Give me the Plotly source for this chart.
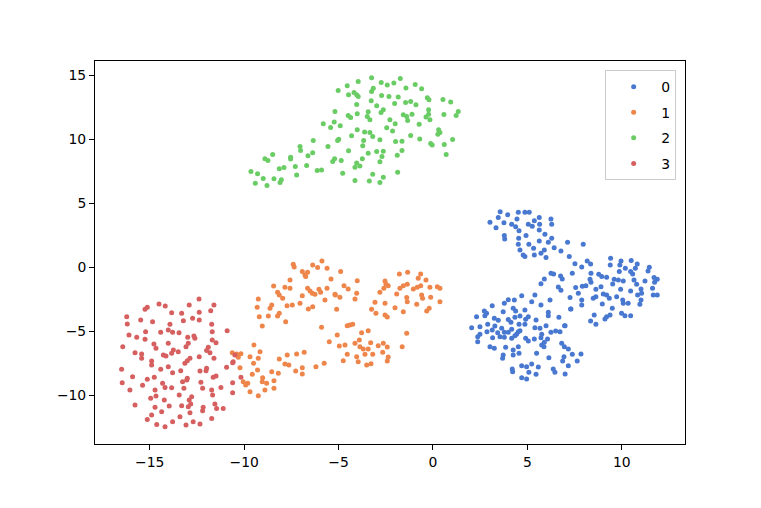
import plotly.graph_objects as go

# t-SNE embedding, one list of (x, y) pairs per class
class_labels = ['0', '1', '2', '3']
colors = ['#4878d0', '#ee854a', '#6acc64', '#d65f5f']

pts_0 = [
    (3.56, 4.34), (3.46, 3.88), (3.96, 4.09), (4.52, 4.3), (4.87, 4.3), (5.1, 4.3), (3.02, 3.52),
    (3.34, 3.09), (3.76, 3.48), (4.17, 3.36), (4.38, 3.17), (4.45, 3.77), (5.05, 3.36), (5.26, 3.2),
    (5.37, 3.62), (5.63, 3.88), (5.65, 3.36), (5.63, 2.91), (6.25, 3.77), (6.29, 3.36), (4.56, 2.84),
    (3.78, 2.47), (3.8, 2.21), (4.93, 2.47), (5.93, 2.58), (4.54, 2.27), (6.29, 2.27), (6.11, 1.95),
    (5.63, 2.05), (4.52, 1.8), (5.08, 1.8), (7.13, 1.95), (5.33, 1.48), (4.61, 1.35), (5.9, 1.35),
    (5.72, 1.09), (6.42, 1.53), (6.78, 1.27), (4.78, 0.96), (4.87, 0.83), (5.37, 0.96), (5.99, 0.75),
    (7.22, 0.83), (7.96, 1.8), (7.52, 0.28), (7.88, 0.02), (7.38, -0.47), (6.25, -0.47), (6.39, -0.52),
    (6.76, -0.68), (6.85, -0.91), (5.9, -0.91), (5.72, -1.28), (6.64, -1.54), (6.78, -1.8), (7.56, -1.59),
    (7.91, -1.48),
    (8.17, 0.49), (8.35, 0.26), (9.41, 0.7), (9.39, 0.18), (9.96, 0.49), (9.9, 0.18), (10.5, 0.52),
    (10.82, 0.26), (10.72, -0.08), (11.46, 0.0), (11.39, -0.29), (10.19, -0.08), (8.37, -0.47),
    (9.87, -0.34), (10.47, -0.34), (10.58, -0.52), (8.78, -0.55), (8.94, -0.73), (9.2, -0.78),
    (8.32, -0.94), (8.37, -1.17), (9.6, -0.94), (9.82, -0.99), (10.08, -1.07), (10.65, -0.99),
    (10.79, -1.33), (11.23, -1.07), (11.71, -0.81), (11.88, -0.94), (11.74, -1.17), (9.52, -1.3),
    (8.1, -1.44), (8.63, -1.72), (8.9, -1.52), (7.7, -2.03), (9.94, -1.72), (10.47, -1.85), (11.02, -1.7),
    (11.05, -2.03), (11.63, -1.64), (11.67, -2.16), (11.88, -2.16), (9.02, -2.09), (9.2, -2.16),
    (9.34, -2.42), (8.49, -2.42), (8.63, -2.3), (9.73, -2.3), (10.84, -2.16), (7.26, -2.37), (7.88, -2.55),
    (7.88, -2.95), (10.05, -2.55), (10.34, -2.81), (10.08, -2.81), (11.02, -2.55), (10.96, -2.89),
    (8.97, -2.87), (9.5, -3.2), (7.29, -3.26), (8.54, -3.73), (8.35, -4.2), (8.63, -4.45), (9.2, -3.86),
    (9.38, -3.73), (9.11, -4.04), (9.99, -3.59), (10.17, -3.78), (10.47, -3.78), (6.97, -4.56),
    (5.4, -2.16), (6.2, -2.55), (5.23, -2.69), (4.7, -2.22), (3.99, -2.53), (3.78, -2.81), (4.31, -2.55),
    (3.14, -3.0), (5.72, -2.95), (4.25, -3.2), (4.38, -3.41), (4.87, -3.34), (3.72, -3.47), (2.72, -3.41),
    (2.75, -3.78), (2.84, -3.59), (6.11, -3.52), (6.11, -3.78), (7.31, -3.26), (2.31, -3.86), (3.25, -3.98),
    (3.46, -4.14), (3.99, -4.09), (4.13, -4.3), (4.34, -3.91), (4.61, -3.8), (5.05, -3.86), (4.91, -4.06),
    (5.46, -4.12), (6.67, -3.91), (2.9, -4.45), (2.49, -4.64), (2.05, -4.72), (3.28, -4.59), (3.14, -4.9),
    (3.64, -4.77), (3.78, -5.08), (4.56, -4.45), (4.87, -4.45), (4.17, -4.84), (3.99, -5.08), (4.61, -4.95),
    (5.4, -4.72), (5.67, -4.77), (5.99, -4.56), (6.5, -4.98), (6.73, -5.03), (7.0, -4.56), (6.25, -5.08),
    (5.76, -5.23), (5.72, -5.5), (2.49, -5.23), (2.37, -5.42), (2.37, -5.81), (2.86, -5.03), (3.43, -5.11),
    (3.55, -5.42), (3.16, -5.5), (3.78, -5.47), (4.43, -5.23), (4.52, -5.03), (4.17, -5.55), (4.34, -5.34),
    (4.91, -5.55), (5.05, -5.76), (5.37, -5.6), (6.07, -5.6), (5.9, -5.86), (5.76, -6.07), (5.88, -6.2),
    (6.82, -5.94), (6.96, -6.2), (7.17, -6.38), (3.02, -6.2), (3.25, -6.33), (3.85, -6.25), (4.25, -6.46),
    (4.52, -6.2), (4.56, -6.72), (4.25, -6.85), (5.49, -6.72), (3.72, -6.85), (3.69, -7.11), (7.38, -6.8),
    (7.84, -6.77), (6.14, -7.06), (6.94, -6.98), (6.87, -7.32), (7.64, -7.32), (7.17, -7.69), (5.23, -7.55),
    (4.96, -7.77), (4.7, -7.69), (5.58, -7.79), (4.2, -7.95), (4.22, -8.16), (5.08, -8.2), (5.46, -8.36),
    (6.37, -7.95), (6.46, -8.2), (7.0, -8.34), (4.7, -8.62), (4.96, -8.73),
]

pts_1 = [
    (-7.4, 0.23), (-7.35, 0.02), (-6.37, 0.18), (-6.11, -0.03), (-5.88, 0.49), (-5.61, -0.08),
    (-6.92, -0.34), (-6.78, -0.6), (-6.74, -0.73), (-6.64, -0.39), (-5.4, -0.91), (-7.57, -0.99),
    (-7.84, -1.56), (-7.57, -1.64), (-8.44, -1.46), (-6.64, -1.64), (-6.51, -1.85), (-6.39, -2.03),
    (-6.04, -1.72), (-5.95, -1.95), (-5.61, -1.64), (-8.23, -1.95), (-8.14, -2.16), (-7.96, -2.42),
    (-6.92, -2.22), (-6.25, -2.11), (-5.72, -2.55), (-5.19, -2.11), (-9.25, -2.48), (-7.04, -2.81),
    (-7.73, -3.0), (-7.45, -2.95), (-6.37, -3.08), (-6.6, -3.26), (-8.54, -2.95), (-8.63, -3.2),
    (-9.31, -3.13), (-8.14, -3.59), (-8.23, -3.8), (-8.72, -3.8), (-9.2, -3.86), (-7.8, -4.25),
    (-9.04, -4.59), (-5.9, -4.69), (-5.49, -5.81), (-9.48, -6.07), (-10.63, -6.67), (-10.4, -6.77),
    (-10.17, -6.75), (-10.31, -7.03), (-9.16, -6.59), (-9.25, -7.11), (-9.69, -6.98), (-7.72, -6.85),
    (-8.14, -7.16), (-7.22, -6.77), (-6.82, -6.64), (-7.84, -7.55), (-7.63, -7.63), (-6.92, -7.84),
    (-6.92, -8.34), (-7.27, -8.1), (-6.2, -7.77), (-5.76, -7.5), (-9.5, -7.5), (-10.22, -7.84),
    (-9.29, -8.02), (-8.54, -8.16), (-8.19, -8.28), (-9.57, -8.36), (-9.02, -8.62), (-9.04, -8.94),
    (-8.81, -9.06), (-8.42, -8.86), (-10.05, -8.94), (-9.81, -9.06), (-9.92, -9.2), (-8.42, -9.45),
    (-9.69, -9.72), (-8.9, -9.59), (-9.25, -10.03),
    (-4.89, -0.34), (-4.01, -1.05), (-4.71, -1.44), (-4.49, -1.7), (-4.04, -2.03), (-4.13, -2.48),
    (-5.17, -2.16), (-4.93, -2.34), (-5.1, -3.28), (-1.78, -0.52), (-1.34, -0.39), (-0.65, -0.52),
    (-0.78, -0.86), (-2.54, -1.07), (-2.49, -1.33), (-2.37, -1.44), (-2.6, -1.64), (-2.81, -1.95),
    (-0.37, -0.99), (-1.75, -1.64), (-1.57, -1.44), (-1.36, -1.33), (-1.92, -2.09), (-1.04, -1.7),
    (-0.83, -1.56), (-0.65, -1.44), (-0.16, -1.56), (0.23, -1.52), (0.37, -1.64), (-0.6, -2.16),
    (-0.55, -2.42), (-1.39, -2.37), (-1.36, -2.69), (-0.12, -2.34), (0.37, -2.69), (-0.86, -2.89),
    (-3.07, -2.73), (-2.54, -2.81), (-2.01, -3.16), (-3.25, -3.28), (-3.02, -3.59), (-2.54, -3.73),
    (-2.42, -3.88), (-1.57, -3.47), (-0.33, -3.41), (-0.2, -3.2), (-4.54, -4.56), (-4.4, -4.51),
    (-4.25, -4.45), (-3.78, -5.11), (-3.43, -4.95), (-5.07, -5.29), (-1.39, -5.16), (-4.13, -5.94),
    (-3.9, -5.68), (-3.87, -6.2), (-3.3, -5.89), (-4.96, -6.15), (-4.66, -6.07), (-2.9, -6.13),
    (-2.63, -5.94), (-2.42, -6.23), (-1.63, -6.2), (-3.69, -6.38), (-3.43, -6.38), (-4.54, -6.8),
    (-4.04, -6.98), (-3.96, -7.38), (-3.6, -6.8), (-3.19, -6.8), (-2.66, -6.64), (-2.37, -7.01),
    (-2.42, -7.32), (-4.75, -7.3), (-3.51, -7.63), (-3.28, -7.53),
]

pts_2 = [
    (-5.02, 13.8), (-4.54, 14.16), (-3.96, 14.5), (-4.47, 13.46), (-4.18, 13.64), (-4.04, 13.46),
    (-3.96, 13.33), (-4.04, 12.7), (-5.19, 12.16), (-4.01, 11.98), (-4.49, 11.84), (-4.36, 11.69),
    (-5.81, 11.2), (-5.23, 11.33), (-5.42, 10.9), (-4.91, 11.04), (-4.01, 10.73), (-4.31, 10.26),
    (-4.99, 10.0), (-5.05, 9.89), (-6.34, 9.89), (-5.56, 9.42), (-7.04, 9.42), (-7.01, 9.11),
    (-6.37, 8.93), (-6.62, 8.7), (-4.47, 9.09), (-7.54, 8.59), (-7.54, 8.44), (-8.49, 8.8), (-8.9, 8.46),
    (-8.74, 8.33), (-5.21, 8.46), (-5.31, 8.25), (-4.86, 8.33), (-4.04, 8.13), (-4.13, 7.81),
    (-9.64, 7.47), (-9.29, 7.29), (-8.14, 7.68), (-7.89, 7.78), (-7.29, 7.86), (-6.69, 7.94),
    (-6.13, 7.55), (-5.9, 7.6), (-7.22, 7.21), (-4.78, 7.34), (-8.99, 6.92), (-8.42, 6.9), (-8.03, 6.82),
    (-8.1, 6.61), (-9.41, 6.56), (-8.79, 6.38), (-4.13, 6.77),
    (-3.25, 14.79), (-2.74, 14.42), (-2.42, 14.22), (-2.07, 14.38), (-1.73, 14.73), (-3.16, 13.98),
    (-3.25, 13.72), (-1.43, 14.0), (-0.94, 14.27), (-0.6, 13.93), (-2.72, 13.41), (-2.33, 13.33),
    (-1.84, 13.28), (-3.27, 12.99), (-2.98, 12.6), (-2.03, 12.78), (-1.45, 12.86), (-1.18, 12.94),
    (-0.9, 12.68), (-0.3, 13.23), (-0.21, 13.07), (0.53, 13.09), (0.94, 12.89), (1.34, 12.16),
    (1.23, 11.84), (0.58, 11.92), (-0.23, 12.29), (-2.63, 12.29), (-2.75, 12.08), (-3.43, 12.13),
    (-3.48, 11.77), (-3.34, 11.51), (-1.57, 11.9), (-1.39, 11.77), (-1.34, 11.45), (-1.11, 11.95),
    (-0.37, 11.72), (-0.16, 11.51), (-0.23, 11.95), (-2.28, 11.51), (-2.0, 11.2), (-0.73, 11.17),
    (-2.45, 10.88), (-2.14, 10.63), (-3.62, 10.55), (-3.34, 10.52), (-3.19, 10.2), (-3.67, 9.89),
    (-3.72, 9.48), (-2.81, 9.95), (-1.98, 9.81), (-1.64, 9.84), (-1.18, 10.28), (-0.7, 10.02),
    (0.3, 10.73), (0.37, 10.52), (0.26, 10.39), (-0.12, 9.66), (-0.04, 9.55), (0.6, 9.58), (1.04, 9.97),
    (0.7, 8.8), (-1.64, 9.11), (-1.89, 8.75), (-2.98, 9.03), (-2.63, 9.06), (-2.7, 8.64), (-2.81, 8.23),
    (-3.43, 8.9), (-3.74, 8.46), (-3.87, 7.91), (-1.87, 7.42), (-3.19, 7.26), (-2.63, 7.03),
    (-3.37, 6.74), (-2.81, 6.61),
]

pts_3 = [
    (-12.39, -2.48), (-14.51, -2.87), (-14.18, -3.02), (-12.91, -2.95), (-15.13, -3.13), (-15.25, -3.28),
    (-11.6, -2.95), (-11.77, -3.39), (-13.84, -3.55), (-13.31, -3.59), (-12.38, -3.52), (-16.22, -3.86),
    (-16.19, -4.43), (-15.48, -4.12), (-14.85, -4.25), (-13.22, -4.17), (-12.73, -3.98), (-12.38, -4.12),
    (-13.93, -4.45), (-11.72, -4.45), (-14.02, -4.9), (-13.79, -5.08), (-13.45, -5.11), (-15.22, -5.03),
    (-14.42, -5.08), (-11.69, -5.03), (-10.9, -4.95), (-16.1, -5.29), (-15.69, -5.47), (-15.25, -5.63),
    (-12.99, -5.47), (-12.66, -5.37), (-12.61, -5.55), (-11.69, -5.68), (-11.49, -5.89), (-14.78, -5.99),
    (-14.67, -6.33), (-14.02, -5.94), (-12.96, -5.94), (-13.08, -6.2), (-16.43, -6.2), (-11.9, -6.25),
    (-11.99, -6.51), (-11.81, -6.67), (-13.75, -6.46), (-13.49, -6.59), (-13.84, -6.72), (-15.78, -6.67),
    (-15.43, -6.77), (-15.43, -7.11), (-14.14, -6.93), (-14.28, -6.85), (-12.38, -6.98), (-11.6, -7.11),
    (-12.87, -7.11), (-13.01, -7.3), (-13.14, -7.5), (-14.9, -7.32), (-14.9, -7.63), (-14.02, -7.77),
    (-11.99, -7.89), (-12.02, -8.08), (-16.49, -7.97), (-14.42, -7.97), (-13.36, -8.08), (-13.79, -8.23),
    (-12.34, -8.1), (-15.91, -8.55), (-15.13, -8.75), (-14.76, -8.59), (-13.04, -8.8), (-13.26, -8.94),
    (-13.01, -8.67), (-12.29, -8.98), (-11.64, -8.59), (-11.49, -8.49), (-16.46, -9.02), (-15.38, -9.22),
    (-14.32, -9.06), (-14.19, -9.38), (-13.84, -9.41), (-12.2, -9.45), (-11.23, -9.38), (-16.05, -9.59),
    (-14.72, -9.59), (-13.19, -9.45), (-11.72, -9.59), (-11.67, -9.98), (-14.95, -10.23), (-14.67, -10.05),
    (-14.23, -10.37), (-13.44, -9.98), (-12.78, -10.11), (-12.91, -10.37), (-15.78, -10.76),
    (-13.97, -10.84), (-13.31, -10.81), (-12.83, -10.68), (-12.96, -10.89), (-12.17, -10.94),
    (-12.2, -11.2), (-11.55, -10.68), (-11.46, -11.02), (-11.11, -11.02), (-14.72, -10.94),
    (-14.37, -11.28), (-14.9, -11.54), (-15.13, -11.88), (-13.4, -11.67), (-12.87, -11.36),
    (-13.79, -12.06), (-14.19, -12.45), (-14.63, -12.27), (-13.08, -12.32), (-12.7, -12.06),
    (-12.34, -12.24), (-11.72, -11.8), (-10.93, -7.81), (-10.61, -7.45), (-10.61, -9.02), (-10.61, -9.8),
    (-10.49, -6.85), (-10.58, -7.38), (-10.17, -8.59),
]

groups = [pts_0, pts_1, pts_2, pts_3]

fig = go.Figure()
for label, color, pts in zip(class_labels, colors, groups):
    xs = [p[0] for p in pts]
    ys = [p[1] for p in pts]
    fig.add_trace(go.Scatter(
        x=xs, y=ys, mode='markers', name=label, legendgroup=label,
        marker=dict(color=color, size=5, line=dict(width=0)),
    ))

axis_style = dict(
    showgrid=False, zeroline=False, showline=True, mirror=True,
    linecolor='black', linewidth=1, ticks='outside', ticklen=5, tickwidth=1,
    tickcolor='black', tickfont=dict(size=13.9, color='black'), dtick=5,
)
fig.update_xaxes(range=[-17.9, 13.35], tick0=0, **axis_style)
fig.update_yaxes(range=[-13.8, 16.1], tick0=0, **axis_style)

# the page body adds an 8px offset, so the margins are shifted to compensate
fig.update_layout(
    width=761, height=508,
    margin=dict(l=87, r=84, t=53, b=72),
    plot_bgcolor='white', paper_bgcolor='white',
    font=dict(family='DejaVu Sans', color='black'),
    legend=dict(
        x=0.985, y=0.976, xanchor='right', yanchor='top',
        bgcolor='white', bordercolor='#cccccc', borderwidth=1,
        font=dict(size=13.9), tracegroupgap=4.5, itemwidth=45,
    ),
)

fig.write_html("out.html")
